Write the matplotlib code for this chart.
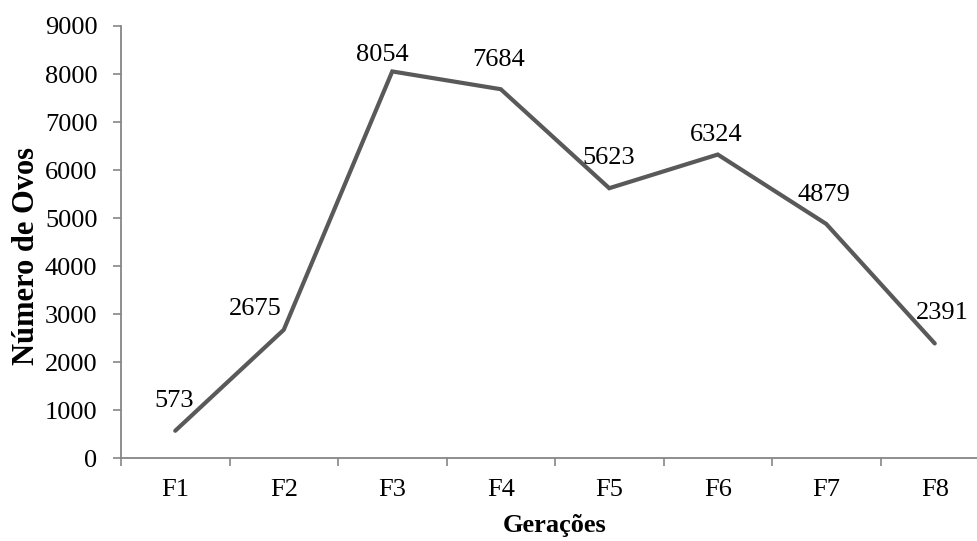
import numpy as np
import matplotlib
matplotlib.use("Agg")
import matplotlib.pyplot as plt
from matplotlib.ticker import FixedLocator

# egg counts per generation
geracoes = ["F1", "F2", "F3", "F4", "F5", "F6", "F7", "F8"]
ovos = [573, 2675, 8054, 7684, 5623, 6324, 4879, 2391]
yticks = [0, 1000, 2000, 3000, 4000, 5000, 6000, 7000, 8000, 9000]

# label offsets in pixels: centre x, baseline above the point
lbl_dx = [-1, -28.5, -9.5, -2, -1, -2, -2.5, 8]
lbl_dy = [24, 15, 10.5, 23, 24, 13.5, 23, 24.5]

plt.rcParams['font.family'] = ['Liberation Serif', 'DejaVu Serif']
grey = "#868686"
fs = 19

fig = plt.figure(figsize=(9.77, 5.41), dpi=100)
ax = fig.add_axes([121/977, 1 - 458.3/541, (989-121)/977, (458.3-26)/541])

x = np.arange(len(geracoes))
ax.plot(x, ovos, color="#595959", lw=3.0, solid_capstyle="round", solid_joinstyle="miter")

for i, v in enumerate(ovos):
    ax.annotate(str(v), (x[i], v), xytext=(lbl_dx[i]*0.72, lbl_dy[i]*0.72),
                textcoords="offset points", ha="center", va="baseline", fontsize=fs)

ax.set_xlim(-0.5, len(geracoes) - 0.5)
ax.set_ylim(0, 9000)
ax.set_yticks(yticks)
ax.set_xticks(x)
ax.set_xticklabels(geracoes)
ax.xaxis.set_minor_locator(FixedLocator(np.arange(-0.5, len(geracoes), 1.0)))

for s in ["top", "right"]:
    ax.spines[s].set_visible(False)
for s in ["left", "bottom"]:
    ax.spines[s].set_color(grey)
    ax.spines[s].set_linewidth(1.3)

ax.tick_params(axis="x", which="major", length=0, pad=15, labelsize=fs)
ax.tick_params(axis="x", which="minor", length=6, width=1.2, color=grey, direction="out")
ax.tick_params(axis="y", length=6, width=1.2, color=grey, pad=11, labelsize=fs)

ax.set_xlabel("Gerações", fontsize=fs, fontweight="bold", labelpad=9)
ax.set_ylabel("Número de Ovos", fontsize=22, fontweight="bold", va="center")
ax.yaxis.set_label_coords(-0.109, 0.468)

fig.savefig("out.png", dpi=100)
